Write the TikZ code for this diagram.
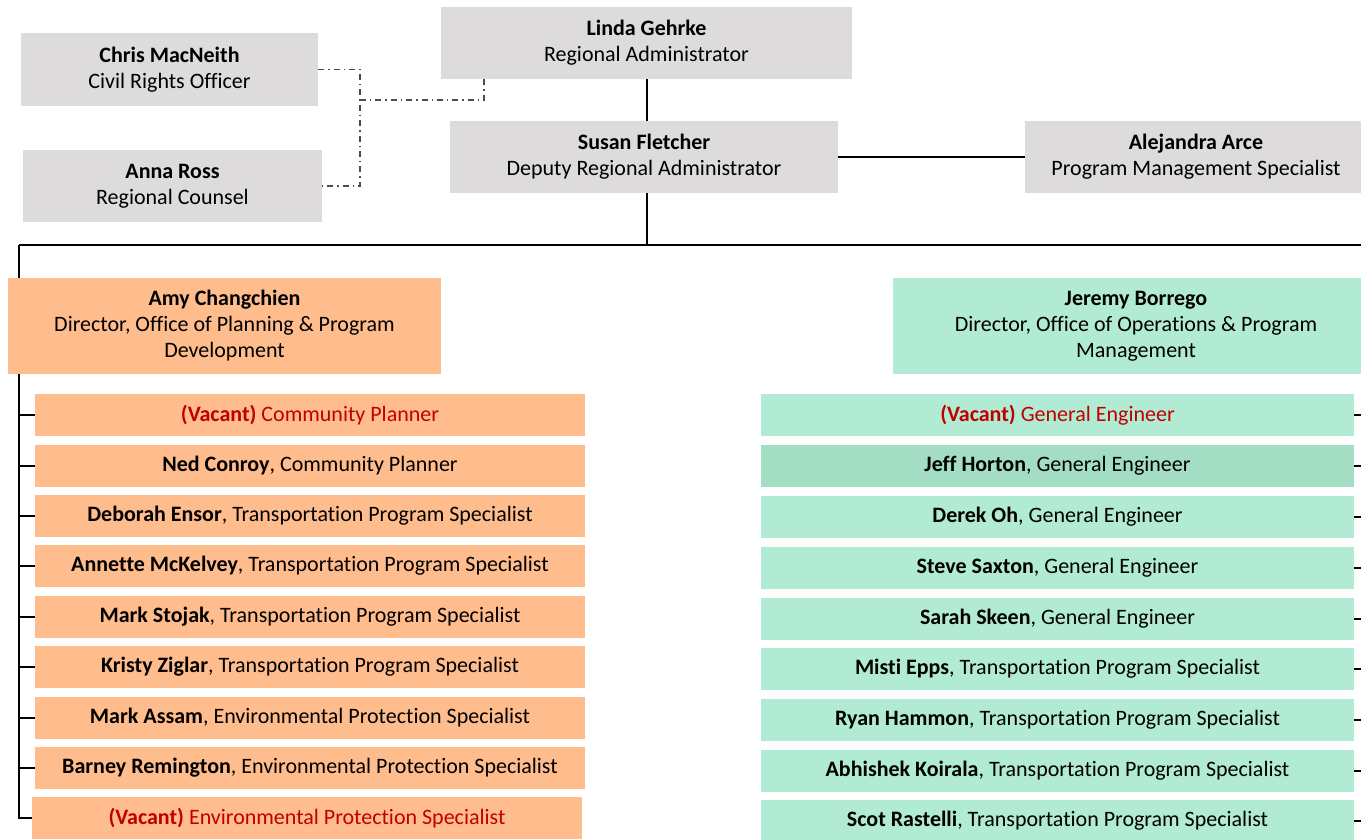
\documentclass[tikz,border=0pt]{standalone}
\usepackage{fontspec}
\setmainfont[Ligatures=CommonOff]{Carlito}
\definecolor{boxgray}{HTML}{DDDBDC}
\definecolor{planorange}{HTML}{FFBC8C}
\definecolor{opsgreen}{HTML}{B1EBD3}
\definecolor{opsgreendark}{HTML}{A3DEC4}
\definecolor{vacantred}{HTML}{C00000}
\tikzset{
  box/.style={inner sep=0pt, align=center, font=\fontsize{11}{13}\selectfont},
  topbox/.style={box, fill=boxgray, minimum height=36pt},
  planbox/.style={box, fill=planorange, minimum width=275pt, minimum height=21pt},
  opsbox/.style={box, fill=opsgreen, minimum width=296.5pt, minimum height=21pt},
  link/.style={line width=1pt},
  advisory/.style={line width=0.7pt, black!70, dash dot}
}
\newcommand{\vacant}[1]{\textcolor{vacantred}{\textbf{(Vacant)} #1}}
\begin{document}
\begin{tikzpicture}[x=0.5pt,y=-0.5pt]
            \clip (0,0) rectangle (1361,840);
            % front office
            \node[topbox, minimum width=205.5pt] (linda) at (646.5,43) {\textbf{Linda Gehrke}\\Regional Administrator};
            \node[topbox, minimum width=148.5pt, minimum height=36.5pt] (chris) at (169.5,69.5) {\textbf{Chris MacNeith}\\Civil Rights Officer};
            \node[topbox, minimum width=149.5pt] (anna) at (172.5,186) {\textbf{Anna Ross}\\Regional Counsel};
            \node[topbox, minimum width=194pt] (susan) at (644,157) {\textbf{Susan Fletcher}\\Deputy Regional Administrator};
            \node[topbox, minimum width=171pt] (alej) at (1196,157) {\textbf{Alejandra Arce}\\Program Management Specialist};
            % office directors
            \node[box, fill=planorange, minimum width=216.5pt, minimum height=48pt] (amy) at (224.5,326) {\textbf{Amy Changchien}\\Director, Office of Planning \& Program\\Development};
            \node[box, fill=opsgreen, minimum width=243pt, minimum height=48pt] (jeremy) at (1136,326) {\textbf{Jeremy Borrego}\\Director, Office of Operations \& Program\\Management};
            % planning staff
            \node[planbox] (p1) at (310,415) {\vacant{Community Planner}};
            \node[planbox] (p2) at (310,466) {\textbf{Ned Conroy}, Community Planner};
            \node[planbox] (p3) at (310,516) {\textbf{Deborah Ensor}, Transportation Program Specialist};
            \node[planbox] (p4) at (310,566) {\textbf{Annette McKelvey}, Transportation Program Specialist};
            \node[planbox] (p5) at (310,617) {\textbf{Mark Stojak}, Transportation Program Specialist};
            \node[planbox] (p6) at (310,667) {\textbf{Kristy Ziglar}, Transportation Program Specialist};
            \node[planbox] (p7) at (310,718) {\textbf{Mark Assam}, Environmental Protection Specialist};
            \node[planbox] (p8) at (310,768) {\textbf{Barney Remington}, Environmental Protection Specialist};
            \node[planbox] (p9) at (307,818) {\vacant{Environmental Protection Specialist}};
            % operations staff
            \node[opsbox] (o1) at (1057.5,415) {\vacant{General Engineer}};
            \node[opsbox, fill=opsgreendark] (o2) at (1057.5,466) {\textbf{Jeff Horton}, General Engineer};
            \node[opsbox] (o3) at (1057.5,517) {\textbf{Derek Oh}, General Engineer};
            \node[opsbox] (o4) at (1057.5,568) {\textbf{Steve Saxton}, General Engineer};
            \node[opsbox] (o5) at (1057.5,619) {\textbf{Sarah Skeen}, General Engineer};
            \node[opsbox] (o6) at (1057.5,669) {\textbf{Misti Epps}, Transportation Program Specialist};
            \node[opsbox] (o7) at (1057.5,720) {\textbf{Ryan Hammon}, Transportation Program Specialist};
            \node[opsbox] (o8) at (1057.5,771) {\textbf{Abhishek Koirala}, Transportation Program Specialist};
            \node[opsbox] (o9) at (1057.5,821) {\textbf{Scot Rastelli}, Transportation Program Specialist};
            % reporting lines
            \coordinate (ltrunk) at (19,245);
            \coordinate (rtrunk) at (1380,245);
            \draw[link] (linda.south) -- (linda.south |- susan.north);
            \draw[link] (susan.east) -- (alej.west);
            \draw[link] (susan.south -| linda.south) -- (ltrunk -| linda.south);
            \draw[link] (ltrunk) -- (rtrunk);
            \draw[link] (ltrunk) -- (ltrunk |- amy.north);
            \draw[link] (ltrunk |- amy.south) -- (ltrunk |- p9) -- (p9.west);
            \foreach \i in {1,...,8} \draw[link] (ltrunk |- p\i) -- (p\i.west);
            \foreach \i in {1,...,9} \draw[link] (o\i.east) -- (o\i.east -| rtrunk);
            % advisory lines
            \coordinate (adv) at (360,100);
            \coordinate (advtop) at (484,100);
            \draw[advisory] (chris.east) -| (adv) -- (adv |- anna.east) -- (anna.east);
            \draw[advisory] (adv) -- (advtop) -- (advtop |- linda.south);
        \end{tikzpicture}
\end{document}
